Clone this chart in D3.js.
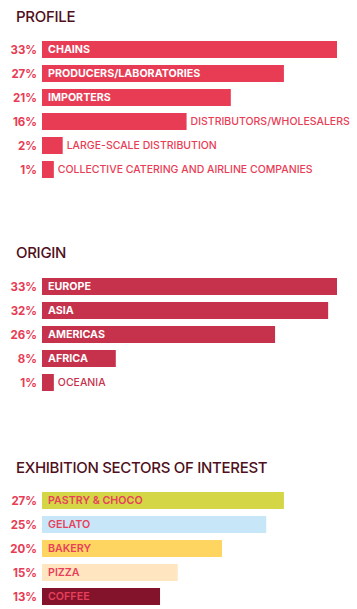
<!DOCTYPE html>
<html><head><meta charset="utf-8">
<script src="https://cdn.jsdelivr.net/npm/d3@7"></script>
<style>
html,body{margin:0;padding:0;background:#fff;}
svg{display:block;}
text{font-family:"Inter","Noto Sans",sans-serif;}
</style></head>
<body>
<script>
const profileCats = ["CHAINS","PRODUCERS/LABORATORIES","IMPORTERS","DISTRIBUTORS/WHOLESALERS","LARGE-SCALE DISTRIBUTION","COLLECTIVE CATERING AND AIRLINE COMPANIES"];
const profileVals = [33,27,21,16,2,1];
const profileInside = [true,true,true,false,false,false];

const originCats = ["EUROPE","ASIA","AMERICAS","AFRICA","OCEANIA"];
const originVals = [33,32,26,8,1];
const originInside = [true,true,true,true,false];

const sectorCats = ["PASTRY & CHOCO","GELATO","BAKERY","PIZZA","COFFEE"];
const sectorVals = [27,25,20,15,13];
const sectorColors = ["#d4d645","#c7e6f8","#ffd562","#ffe6c0","#82132b"];

const sectionTitles = ["PROFILE","ORIGIN","EXHIBITION SECTORS OF INTEREST"];

const W = 357, H = 609;
const svg = d3.select("body").append("svg").attr("width",W).attr("height",H);

const x = d3.scaleLinear().domain([0,33]).range([3,295]);
const barX = 42;
const step = 24, gap = 7;
const pctColor = "#e83c55";
const titleColor = "#4f0f20";

function section(title, titleY, barsY, cats, vals, fillFn, insideArr, insideStyle, outsideColor){
  const g = svg.append("g");
  g.append("text").attr("x",16).attr("y",titleY).text(title)
    .attr("font-size",15).attr("font-weight",500).attr("letter-spacing",-0.3).attr("fill",titleColor);
  const y = d3.scaleBand().domain(cats)
    .range([barsY, barsY + step*cats.length - gap])
    .paddingInner(gap/step).paddingOuter(0);
  const rows = g.selectAll("g.row").data(cats).join("g").attr("class","row");
  rows.append("rect")
    .attr("x",barX).attr("y",d=>y(d))
    .attr("width",(d,i)=>x(vals[i]))
    .attr("height",y.bandwidth())
    .attr("fill",(d,i)=>fillFn(i));
  rows.append("text")
    .attr("x",37).attr("y",d=>y(d)+y.bandwidth()/2).attr("dy","0.36em")
    .attr("text-anchor","end").attr("font-size",11.5).attr("font-weight",700)
    .attr("fill",pctColor).text((d,i)=>vals[i]+"%");
  rows.append("text")
    .attr("x",(d,i)=> insideArr[i] ? barX+6 : barX + x(vals[i]) + 4)
    .attr("y",d=>y(d)+y.bandwidth()/2).attr("dy","0.36em")
    .attr("font-size",(d,i)=> insideArr[i] ? insideStyle.size : 10.5)
    .attr("font-weight",(d,i)=>insideArr[i] ? insideStyle.weight : 500)
    .attr("fill",(d,i)=> insideArr[i] ? insideStyle.color : outsideColor)
    .text(d=>d);
}

const white = {color:"#ffffff", weight:700, size:10.7};
section(sectionTitles[0], 22, 41, profileCats, profileVals, ()=>"#e83c55", profileInside, white, "#e83c55");
section(sectionTitles[1], 258, 278, originCats, originVals, ()=>"#c6324c", originInside, white, "#c6324c");
const pinkLbl = {color:"#e8405a", weight:600, size:10.7};
section(sectionTitles[2], 473, 492, sectorCats, sectorVals, i=>sectorColors[i], [true,true,true,true,true], pinkLbl, "#e8405a");
</script>
</body></html>
